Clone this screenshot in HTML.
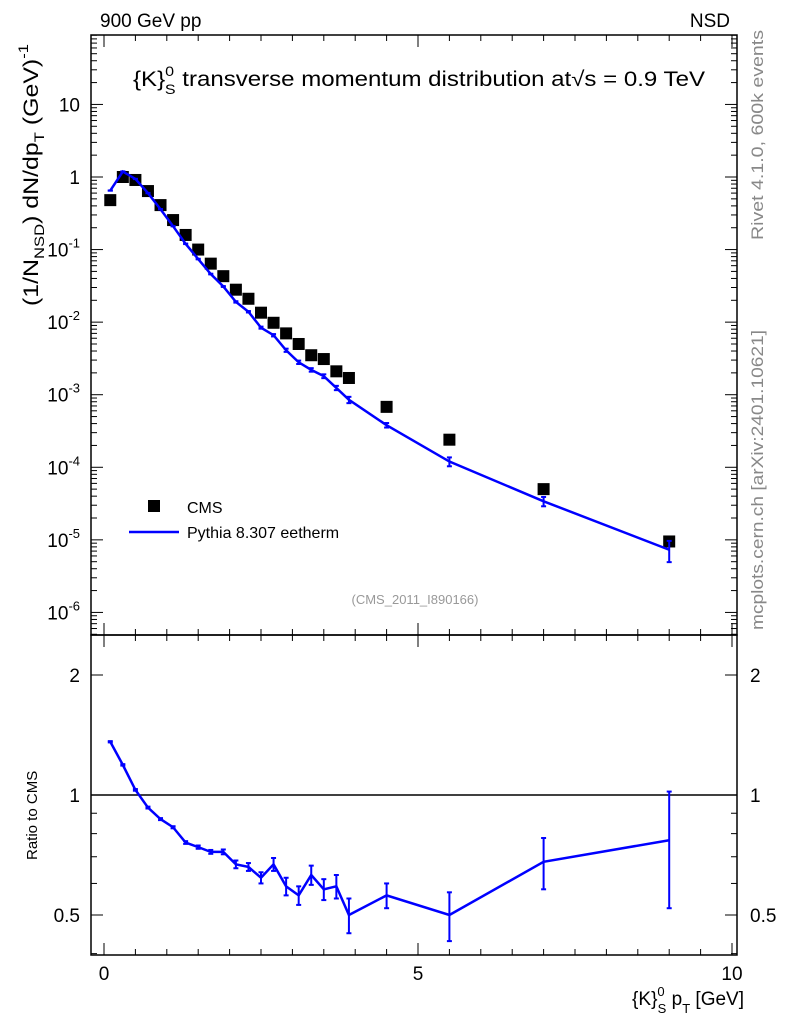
<!DOCTYPE html>
<html><head><meta charset="utf-8"><style>
html,body{margin:0;padding:0;background:#fff}
svg{display:block;font-family:"Liberation Sans","DejaVu Sans",sans-serif}
</style></head><body>
<svg id="c" width="786" height="1024" viewBox="0 0 786 1024" xmlns="http://www.w3.org/2000/svg">
<g id="frames">
<rect x="91" y="35" width="646" height="600" fill="none" stroke="#000" stroke-width="1.5"/>
<rect x="91" y="635" width="646" height="320" fill="none" stroke="#000" stroke-width="1.5"/>
</g>
<g id="ticks"></g>
<g id="marks"></g>
<text x="100" y="27" font-size="19">900 GeV pp</text>
<text x="730" y="27" font-size="19" text-anchor="end">NSD</text>
<text x="133" y="86" font-size="21" textLength="572" lengthAdjust="spacingAndGlyphs">{K}<tspan font-size="14" dy="-10">0</tspan><tspan font-size="14" dx="-8" dy="18">S</tspan><tspan dy="-8"> transverse momentum distribution at</tspan><tspan>√s = 0.9 TeV</tspan></text>
<text transform="translate(763,240) rotate(-90)" font-size="17" fill="#888" textLength="210" lengthAdjust="spacingAndGlyphs">Rivet 4.1.0,  600k events</text>
<text transform="translate(763,630) rotate(-90)" font-size="17" fill="#888" textLength="300" lengthAdjust="spacingAndGlyphs">mcplots.cern.ch [arXiv:2401.10621]</text>
<text x="415" y="604" font-size="13" fill="#999" text-anchor="middle">(CMS_2011_I890166)</text>
<text transform="translate(38,306) rotate(-90)" font-size="21" textLength="262" lengthAdjust="spacingAndGlyphs">(1/N<tspan font-size="14" dy="6">NSD</tspan><tspan dy="-6">) dN/dp</tspan><tspan font-size="14" dy="6">T</tspan><tspan dy="-6"> (GeV)</tspan><tspan font-size="14" dy="-10">-1</tspan></text>
<text transform="translate(37,860) rotate(-90)" font-size="15">Ratio to CMS</text>
<text x="744" y="1005" font-size="19" text-anchor="end">{K}<tspan font-size="13" dy="-9">0</tspan><tspan font-size="13" dx="-7" dy="17">S</tspan><tspan dy="-8"> p</tspan><tspan font-size="13" dy="8">T</tspan><tspan dy="-8"> [GeV]</tspan></text>
<g>
<rect x="148" y="500" width="12" height="12" fill="#000"/>
<text x="187" y="513" font-size="16">CMS</text>
<line x1="129" y1="532" x2="179" y2="532" stroke="#0000ff" stroke-width="2.5"/>
<text x="187" y="538" font-size="16">Pythia 8.307 eetherm</text>
</g>
</svg>
<script>
const xVals=[0.1,0.3,0.5,0.7,0.9,1.1,1.3,1.5,1.7,1.9,2.1,2.3,2.5,2.7,2.9,3.1,3.3,3.5,3.7,3.9,4.5,5.5,7.0,9.0];
const cmsY=[0.48,1.0,0.91,0.64,0.41,0.255,0.159,0.1,0.064,0.043,0.028,0.021,0.0135,0.0098,0.0070,0.0050,0.0035,0.0031,0.0021,0.0017,6.8e-4,2.4e-4,5.0e-5,9.5e-6];
const mcY=[0.65,1.19,0.94,0.60,0.36,0.21,0.12,0.074,0.046,0.031,0.019,0.0139,0.0084,0.0066,0.0041,0.0028,0.0022,0.0018,0.00124,0.00085,3.8e-4,1.2e-4,3.4e-5,7.3e-6];
const ratio=[1.36,1.19,1.03,0.93,0.87,0.83,0.76,0.74,0.72,0.72,0.67,0.66,0.62,0.67,0.59,0.56,0.63,0.58,0.59,0.50,0.56,0.50,0.68,0.77];
const ratioErr=[0.005,0.005,0.005,0.005,0.005,0.005,0.006,0.007,0.008,0.01,0.015,0.015,0.02,0.025,0.03,0.03,0.035,0.035,0.04,0.05,0.04,0.07,0.1,0.25];
const xTickLabels=["0","5","10"];
const yDecades=[1,0,-1,-2,-3,-4,-5,-6];
const ratioTicks=[2,1,0.5];

const NS='http://www.w3.org/2000/svg';
const X=v=>104+v*62.8;
const Y=v=>177-Math.log10(v)*72.57;
const R=v=>795-Math.log2(v)*120;
const ticks=document.getElementById('ticks'),marks=document.getElementById('marks');
function mk(tag,attrs,parent){const e=document.createElementNS(NS,tag);for(const k in attrs)e.setAttribute(k,attrs[k]);parent.appendChild(e);return e;}
function ln(x1,y1,x2,y2,p,w,c){return mk('line',{x1,y1,x2,y2,stroke:c||'#000','stroke-width':w||1},p);}
for(let i=0;i<=20;i++){const v=i*0.5,x=X(v),L=(i%10==0)?12:6;
 ln(x,635,x,635-L,ticks);ln(x,35,x,35+L,ticks);ln(x,955,x,955-L,ticks);ln(x,635,x,635+L,ticks);}
xTickLabels.forEach(s=>{const t=mk('text',{x:X(+s),y:980,'font-size':19,'text-anchor':'middle'},ticks);t.textContent=s;
 
 });
for(let d=-7;d<=1;d++){for(let m=1;m<10;m++){const v=m*Math.pow(10,d),y=Y(v);if(y<35||y>635)continue;const L=m==1?12:6;
 ln(91,y,91+L,y,ticks);ln(737,y,737-L,y,ticks);}}
yDecades.forEach(d=>{const y=Y(Math.pow(10,d));const t=mk('text',{x:80,y:y+7,'font-size':19,'text-anchor':'end'},ticks);
 
 
 if(d==1)t.textContent='10';else if(d==0)t.textContent='1';else{t.textContent='10';const s=mk('tspan',{'font-size':13,dy:-9},t);s.textContent=String(d);}});
[0.4,0.5,0.6,0.7,0.8,0.9,1,2].forEach(v=>{const y=R(v),L=(v==1||v==2||v==0.5)?12:6;ln(91,y,91+L,y,ticks);ln(737,y,737-L,y,ticks);});
ratioTicks.forEach(v=>{const y=R(v);
 const a=mk('text',{x:80,y:y+7,'font-size':19,'text-anchor':'end'},ticks);a.textContent=String(v);
 
 
 const b=mk('text',{x:750,y:y+7,'font-size':19},ticks);b.textContent=String(v);
 
 });
ln(91,R(1),737,R(1),marks,1.5,'#000');
xVals.forEach((x,i)=>{const r=mk('rect',{x:X(x)-6,y:Y(cmsY[i])-6,width:12,height:12,fill:'#000'},marks);
 
 });
const pl=mk('polyline',{points:xVals.map((x,i)=>X(x)+','+Y(mcY[i])).join(' '),fill:'none',stroke:'#0000ff','stroke-width':2.5},marks);


xVals.forEach((x,i)=>{const rel=ratioErr[i]/ratio[i];const y1=Y(mcY[i]*(1+rel)),y2=Y(mcY[i]*Math.max(1-rel,0.05));
 const px=X(x);ln(px,y1,px,y2,marks,2,'#0000ff');ln(px-2.5,y1,px+2.5,y1,marks,2,'#0000ff');ln(px-2.5,y2,px+2.5,y2,marks,2,'#0000ff');});
const rl=mk('polyline',{points:xVals.map((x,i)=>X(x)+','+R(ratio[i])).join(' '),fill:'none',stroke:'#0000ff','stroke-width':2.5},marks);


xVals.forEach((x,i)=>{const y1=R(ratio[i]+ratioErr[i]),y2=R(Math.max(ratio[i]-ratioErr[i],0.41));const px=X(x);
 ln(px,y1,px,y2,marks,2,'#0000ff');ln(px-2.5,y1,px+2.5,y1,marks,2,'#0000ff');ln(px-2.5,y2,px+2.5,y2,marks,2,'#0000ff');});
</script>
</body></html>
